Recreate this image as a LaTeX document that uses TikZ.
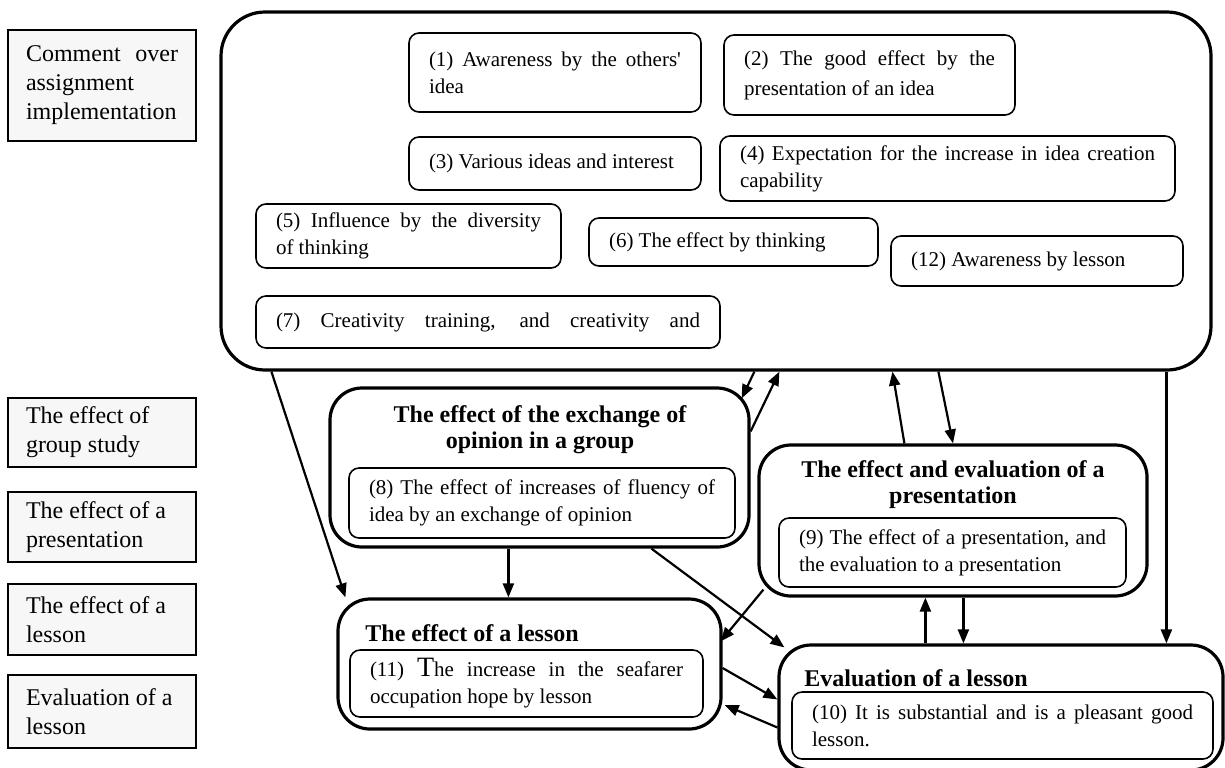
\documentclass[tikz,border=0pt]{standalone}
\usepackage{fontspec}
\setmainfont{Liberation Serif}
\usepackage{tikz}
\usetikzlibrary{calc}
\usetikzlibrary{arrows.meta, positioning}
\tikzstyle{inarrow}=[->, >={Triangle[length=7pt,width=5.5pt]}, line width=1.1pt]
\tikzstyle{bigframe}=[draw, line width=1.6pt, rounded corners=16pt, inner sep=0pt]
\tikzstyle{itembox}=[draw, line width=0.8pt, rounded corners=5pt, inner xsep=10pt, inner ysep=0pt, align=justify, font=\fontsize{10.5}{13.5}\selectfont]
\tikzstyle{levelbox}=[draw, fill=gray!6, line width=1.3pt, inner xsep=9pt, inner ysep=0pt, text width=76pt, align=justify, font=\fontsize{12}{14.5}\selectfont]
\tikzstyle{heading}=[font=\fontsize{12}{13}\selectfont\bfseries, align=center, inner sep=0pt]
\newcommand{\fullline}[1]{\makebox[\linewidth][s]{#1}}

\begin{document}
\begin{tikzpicture}[x=0.5pt, y=-0.5pt]
    \useasboundingbox (0,0) rectangle (1225,767);

    % left column
    \node[levelbox, minimum height=55.5pt] (g1) at (102,85.5) {\fullline{Comment over}\\assignment\\implementation};
    \node[levelbox, minimum height=34.5pt] (g2) at (102,432.5) {The effect of\\group study};
    \node[levelbox, minimum height=35pt] (g3) at (102,527) {The effect of a\\presentation};
    \node[levelbox, minimum height=35.5pt] (g4) at (102,619.5) {The effect of a\\lesson};
    \node[levelbox, minimum height=36.5pt] (g5) at (102,711.5) {Evaluation of a\\lesson};

    % frames
    \node[bigframe, minimum width=495pt, minimum height=179pt, rounded corners=22pt] (top) at (716,191) {};
    \node[bigframe, minimum width=209.5pt, minimum height=79.5pt] (grp) at (539.5,467.5) {};
    \node[bigframe, minimum width=194pt, minimum height=75.5pt] (prs) at (953,520.5) {};
    \node[bigframe, minimum width=191.5pt, minimum height=65pt] (lsn) at (529.5,664) {};
    \node[bigframe, minimum width=222pt, minimum height=62.5pt] (evl) at (1001,707.5) {};

    \node[heading] (grpt) at (540,430) {The effect of the exchange of\\opinion in a group};
    \node[heading] (prst) at (953,485) {The effect and evaluation of a\\presentation};
    \node[heading, anchor=west] (lsnt) at (365,633) {The effect of a lesson};
    \node[heading, anchor=west] (evlt) at (804,678) {Evaluation of a lesson};

    % comments
    \node[itembox, text width=126pt, minimum height=39.5pt] (n1) at (555,72.5) {\fullline{(1) Awareness by the others\textquotesingle}\\idea};
    \node[itembox, text width=125.5pt, minimum height=40pt, font=\fontsize{10.5}{15}\selectfont] (n2) at (869.5,75) {\fullline{(2) The good effect by the}\\presentation of an idea};
    \node[itembox, text width=126pt, minimum height=26.5pt] (n3) at (555,163.5) {(3) Various ideas and interest};
    \node[itembox, text width=207.5pt, minimum height=32.5pt] (n4) at (947.5,168.5) {\fullline{(4) Expectation for the increase in idea creation}\\capability};
    \node[itembox, text width=132.5pt, minimum height=32pt] (n5) at (408.5,236) {\fullline{(5) Influence by the diversity}\\of thinking};
    \node[itembox, text width=124.5pt, minimum height=24pt] (n6) at (733.5,242) {(6) The effect by thinking};
    \node[itembox, text width=126pt, minimum height=25pt] (n12) at (1037,261) {(12) Awareness by lesson};
    \node[itembox, text width=212pt, minimum height=26pt] (n7) at (488,322) {\fullline{(7) Creativity training, and creativity and}};
    \node[itembox, text width=173pt, minimum height=35pt] (n8) at (542,503) {\fullline{(8) The effect of increases of fluency of}\\idea by an exchange of opinion};
    \node[itembox, text width=153.5pt, minimum height=34.5pt] (n9) at (952.5,552.5) {\fullline{(9) The effect of a presentation, and}\\the evaluation to a presentation};
    \node[itembox, text width=156.5pt, minimum height=33.5pt] (n11) at (526.5,683.5) {\fullline{(11) {\fontsize{14}{14}\selectfont T}he increase in the seafarer}\\occupation hope by lesson};
    \node[itembox, text width=190.5pt, minimum height=33.5pt] (n10) at (1002.5,725.5) {\fullline{(10) It is substantial and is a pleasant good}\\lesson.};

    \path[inarrow]
        ($(top.south west)+(52,0)$) edge ($(lsn.north west)+(9,0)$)
        ($(top.south west)+(535,0)$) edge ($(grp.north east)+(-9,12)$)
        ($(grp.north east)+(0,45)$) edge ($(top.south west)+(560,0)$)
        ($(prs.north west)+(147,0)$) edge ($(top.south west)+(673,0)$)
        ($(top.south west)+(719,0)$) edge (prs.north)
        ($(top.south west)+(947,0)$) edge ($(evl.north west)+(389,0)$)
        ($(evl.north west)+(148,0)$) edge ($(prs.south west)+(168,0)$)
        ($(prs.south west)+(206,0)$) edge ($(evl.north west)+(186,0)$)
        ($(prs.south west)+(6,-8)$) edge ($(lsn.north east)+(-2,44)$)
        ($(grp.south west)+(323,0)$) edge ($(evl.north west)+(7,4)$)
        ($(lsn.east)+(0,4)$) edge ($(evl.west)+(0,-8)$)
        ($(evl.west)+(0,20)$) edge ($(lsn.east)+(2,41)$)
        ($(grp.south west)+(180,0)$) edge ($(lsn.north west)+(172,0)$);
\end{tikzpicture}
\end{document}
